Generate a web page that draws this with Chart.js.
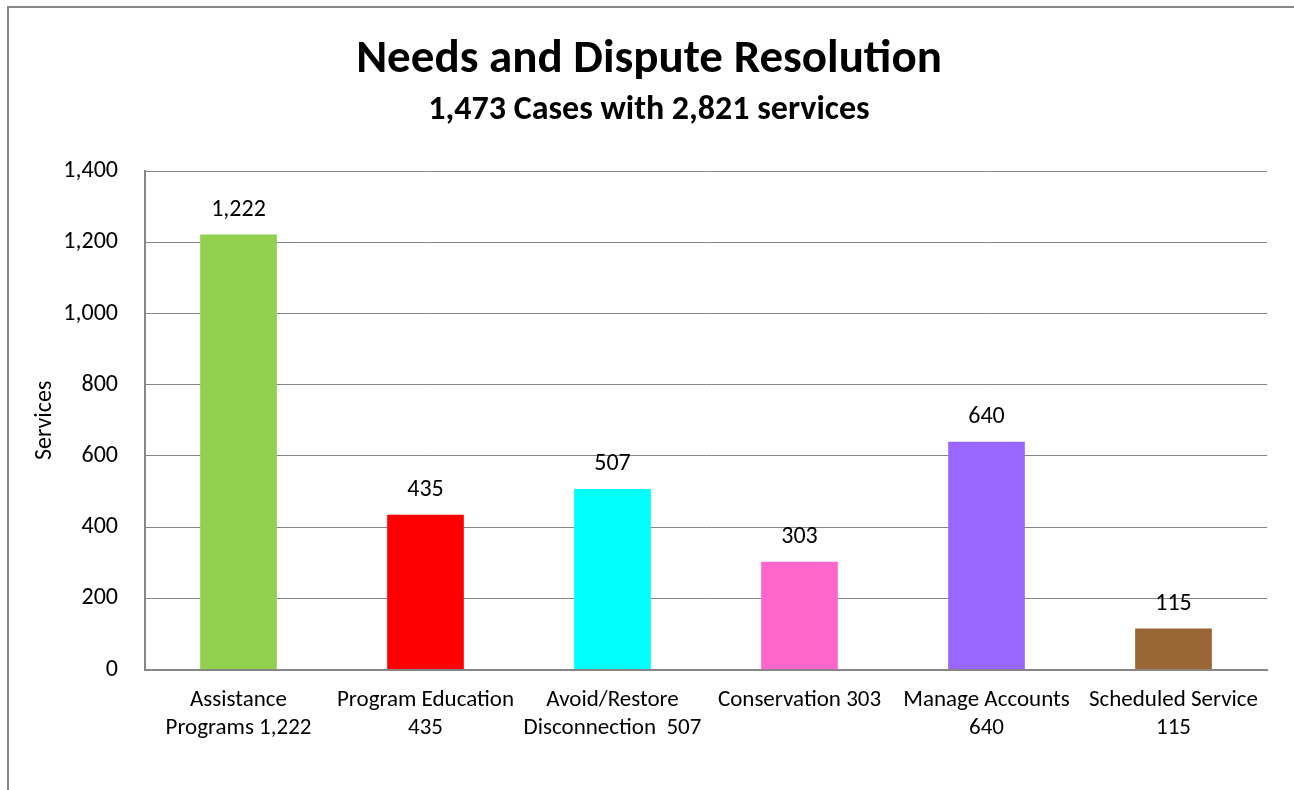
<!DOCTYPE html>
<html>
<head>
<meta charset="utf-8">
<script src="https://cdn.jsdelivr.net/npm/chart.js@4"></script>
<style>
  html, body { margin: 0; padding: 0; background: #fff; }
  #wrap { width: 1294px; height: 790px; position: relative; }
</style>
</head>
<body>
<div id="wrap"><canvas id="servicesChart"></canvas></div>
<script>
// categorias e valores
const categories = [
    ['Assistance', 'Programs 1,222'],
    ['Program Education', '435'],
    ['Avoid/Restore', 'Disconnection  507'],
    'Conservation 303',
    ['Manage Accounts', '640'],
    ['Scheduled Service', '115']
];
const services = [1222, 435, 507, 303, 640, 115];
const barColors = ['#92D050', '#FF0000', '#00FFFF', '#FF66CC', '#9966FF', '#996633'];
const yTicks = [0, 200, 400, 600, 800, 1000, 1200, 1400];

const fontFamily = 'Calibri, Carlito, Lato, sans-serif';
const gray = '#868686';

// moldura externa do gráfico
const frame = {
    id: 'frame',
    beforeDraw(chart) {
        const ctx = chart.ctx;
        ctx.save();
        ctx.strokeStyle = gray;
        ctx.lineWidth = 2;
        ctx.strokeRect(8, 7, 1400, 900);
        ctx.restore();
    }
};

// valores acima das barras
const barValues = {
    id: 'barValues',
    afterDatasetsDraw(chart) {
        const ctx = chart.ctx;
        const meta = chart.getDatasetMeta(0);
        ctx.save();
        ctx.font = '24px ' + fontFamily;
        ctx.fillStyle = '#000';
        ctx.textAlign = 'center';
        ctx.textBaseline = 'middle';
        meta.data.forEach((bar, i) => {
            ctx.fillText(services[i].toLocaleString('en-US'), bar.x, bar.y - 25);
        });
        ctx.restore();
    }
};

Chart.defaults.font.family = fontFamily;
Chart.defaults.color = '#000';

new Chart(document.getElementById('servicesChart'), {
    type: 'bar',
    data: {
        labels: categories,
        datasets: [{
            data: services,
            backgroundColor: barColors,
            borderWidth: 0,
            categoryPercentage: 1,
            barPercentage: 0.41
        }]
    },
    options: {
        responsive: true,
        maintainAspectRatio: false,
        animation: false,
        layout: { padding: { top: 22, left: 31, right: 27, bottom: 31 } },
        plugins: {
            legend: { display: false },
            tooltip: { enabled: false },
            title: {
                display: true,
                text: 'Needs and Dispute Resolution',
                font: { size: 47, weight: 'bold' },
                padding: { top: 10, bottom: 2 }
            },
            subtitle: {
                display: true,
                text: '1,473 Cases with 2,821 services',
                font: { size: 34, weight: 'bold' },
                color: '#000',
                padding: { top: 0, bottom: 40 }
            }
        },
        scales: {
            x: {
                grid: { display: false, drawTicks: false },
                border: { display: true, color: gray, width: 2 },
                ticks: {
                    font: { size: 23, lineHeight: 1.25 },
                    padding: 16,
                    maxRotation: 0,
                    autoSkip: false
                }
            },
            y: {
                min: 0,
                max: 1400,
                afterBuildTicks(axis) {
                    axis.ticks = yTicks.map(v => ({ value: v }));
                },
                // largura fixa do eixo: título + rótulos
                afterFit(axis) {
                    axis.width = 114;
                },
                grid: { color: gray, lineWidth: 1, drawTicks: false },
                border: { display: true, color: gray, width: 2 },
                ticks: {
                    font: { size: 24 },
                    padding: 27,
                    callback: v => v.toLocaleString('en-US')
                },
                title: {
                    display: true,
                    text: 'Services',
                    font: { size: 24 },
                    padding: { top: 0, bottom: 0 }
                }
            }
        }
    },
    plugins: [frame, barValues]
});
</script>
</body>
</html>
